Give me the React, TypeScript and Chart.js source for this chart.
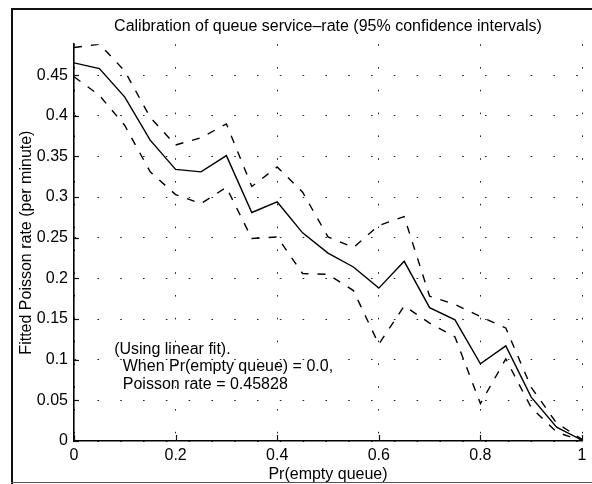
import React, { useEffect, useRef } from 'react';
import { Chart, registerables } from 'chart.js';

Chart.register(...registerables);

// ---- data ----
const PR_EMPTY = [0, 0.05, 0.1, 0.15, 0.2, 0.25, 0.3, 0.35, 0.4, 0.45, 0.5, 0.55, 0.6, 0.65, 0.7, 0.75, 0.8, 0.85, 0.9, 0.95, 1];
const FITTED_RATE = [0.465, 0.458, 0.423, 0.37, 0.334, 0.331, 0.351, 0.281, 0.294, 0.256, 0.231, 0.214, 0.188, 0.221, 0.164, 0.149, 0.095, 0.117, 0.054, 0.017, 0.001];
const UPPER_95 = [0.484, 0.488, 0.455, 0.398, 0.364, 0.373, 0.39, 0.313, 0.337, 0.306, 0.251, 0.238, 0.265, 0.276, 0.178, 0.168, 0.153, 0.139, 0.066, 0.022, 0.002];
const LOWER_95 = [0.448, 0.425, 0.388, 0.331, 0.303, 0.292, 0.312, 0.249, 0.251, 0.206, 0.205, 0.185, 0.119, 0.166, 0.145, 0.128, 0.046, 0.101, 0.041, 0.011, 0.0];

const X_TICKS = [0, 0.2, 0.4, 0.6, 0.8, 1];
const X_TICK_LABELS = ['0', '0.2', '0.4', '0.6', '0.8', '1'];
const Y_TICKS = [0, 0.05, 0.1, 0.15, 0.2, 0.25, 0.3, 0.35, 0.4, 0.45];
const Y_TICK_LABELS = ['0', '0.05', '0.1', '0.15', '0.2', '0.25', '0.3', '0.35', '0.4', '0.45'];
const Y_MAX = 0.488;

const TITLE = 'Calibration of queue service\u2013rate (95% confidence intervals)';
const X_TITLE = 'Pr(empty queue)';
const Y_TITLE = 'Fitted Poisson rate (per minute)';
const NOTE_LINES = ['(Using linear fit).', 'When Pr(empty queue) = 0.0,', 'Poisson rate = 0.45828'];
const NOTE_X = [0.079, 0.096, 0.096];
const NOTE_Y = [0.113, 0.091, 0.069];

const FONT = '"Liberation Sans", Arial, Helvetica, sans-serif';

const overlayPlugin = {
  id: 'overlay',
  afterDatasetsDraw(chart: any) {
    const { ctx, chartArea, scales } = chart;
    const xs = scales.x;
    const ys = scales.y;
    ctx.save();
    ctx.strokeStyle = '#111';
    ctx.lineWidth = 1.2;
    Y_TICKS.forEach((v) => {
      const py = Math.round(ys.getPixelForValue(v)) + 0.5;
      ctx.beginPath();
      ctx.moveTo(chartArea.left, py);
      ctx.lineTo(chartArea.left + 5, py);
      ctx.stroke();
    });
    X_TICKS.forEach((v) => {
      const px = Math.round(xs.getPixelForValue(v)) + 0.5;
      ctx.beginPath();
      ctx.moveTo(px, chartArea.bottom);
      ctx.lineTo(px, chartArea.bottom - 6);
      ctx.stroke();
    });
    ctx.fillStyle = '#000';
    ctx.font = '16px ' + FONT;
    ctx.textBaseline = 'middle';
    ctx.textAlign = 'left';
    NOTE_LINES.forEach((t, i) => {
      ctx.fillText(t, xs.getPixelForValue(NOTE_X[i]), ys.getPixelForValue(NOTE_Y[i]));
    });
    ctx.restore();
  },
};

function toPoints(ys: number[]) {
  return PR_EMPTY.map((x, i) => ({ x, y: ys[i] }));
}

export default function App() {
  const canvasRef = useRef<HTMLCanvasElement | null>(null);

  useEffect(() => {
    document.body.style.margin = '0';
    const canvas = canvasRef.current;
    if (!canvas) return;
    Chart.defaults.font.family = FONT;
    Chart.defaults.font.size = 16;
    Chart.defaults.color = '#000';

    const gridCommon = {
      color: '#222',
      lineWidth: 1,
      drawTicks: false,
    };
    const borderCommon = {
      display: true,
      color: '#000',
      width: 1.6,
      dash: [1.6, 21.2],
    };

    const chart = new Chart(canvas, {
      type: 'line',
      data: {
        datasets: [
          {
            label: 'Fitted rate',
            data: toPoints(FITTED_RATE),
            borderColor: '#000',
            borderWidth: 1.4,
            pointRadius: 0,
            tension: 0,
          },
          {
            label: 'Upper 95%',
            data: toPoints(UPPER_95),
            borderColor: '#000',
            borderWidth: 1.4,
            borderDash: [8, 9],
            pointRadius: 0,
            tension: 0,
          },
          {
            label: 'Lower 95%',
            data: toPoints(LOWER_95),
            borderColor: '#000',
            borderWidth: 1.4,
            borderDash: [8, 9],
            pointRadius: 0,
            tension: 0,
          },
        ],
      },
      options: {
        animation: false,
        responsive: false,
        devicePixelRatio: 1,
        layout: { padding: { left: 0, right: 10, top: 0, bottom: 0 } },
        plugins: {
          legend: { display: false },
          tooltip: { enabled: false },
          title: {
            display: true,
            text: TITLE,
            fullSize: false,
            color: '#000',
            font: { size: 16, weight: 'normal', family: FONT },
            padding: { top: 17, bottom: 8 },
          },
        },
        scales: {
          x: {
            type: 'linear',
            min: 0,
            max: 1,
            afterBuildTicks: (scale: any) => {
              scale.ticks = X_TICKS.map((v) => ({ value: v }));
            },
            afterFit: (scale: any) => {
              scale.height = 43;
            },
            ticks: {
              autoSkip: false,
              maxRotation: 0,
              padding: 5,
              color: '#000',
              font: { size: 16, family: FONT },
              callback: (_v: any, i: number) => X_TICK_LABELS[i],
            },
            grid: gridCommon,
            border: borderCommon,
            title: {
              display: true,
              text: X_TITLE,
              color: '#000',
              font: { size: 16, family: FONT },
              padding: { top: 0, bottom: 0 },
            },
          },
          y: {
            type: 'linear',
            min: 0,
            max: Y_MAX,
            afterBuildTicks: (scale: any) => {
              scale.ticks = Y_TICKS.map((v) => ({ value: v }));
            },
            afterFit: (scale: any) => {
              scale.width = 74;
            },
            ticks: {
              autoSkip: false,
              includeBounds: false,
              padding: 6,
              color: '#000',
              font: { size: 16, family: FONT },
              callback: (_v: any, i: number) => Y_TICK_LABELS[i],
            },
            grid: gridCommon,
            border: borderCommon,
            title: {
              display: true,
              text: Y_TITLE,
              color: '#000',
              font: { size: 16, family: FONT },
              padding: { top: 17, bottom: 0 },
            },
          },
        },
      },
      plugins: [overlayPlugin],
    } as any);

    return () => {
      chart.destroy();
    };
  }, []);

  return (
    <div style={{ position: 'relative', width: 592, height: 484, background: '#fff', overflow: 'hidden' }}>
      <canvas ref={canvasRef} width={592} height={484} style={{ position: 'absolute', left: 0, top: 0 }} />
      <div style={{ position: 'absolute', left: 11, top: 8, width: 2, height: 476, background: '#111' }} />
      <div style={{ position: 'absolute', left: 11, top: 8, width: 581, height: 2, background: '#111' }} />
      <div style={{ position: 'absolute', left: 11, top: 482, width: 581, height: 1, background: '#555' }} />
    </div>
  );
}
